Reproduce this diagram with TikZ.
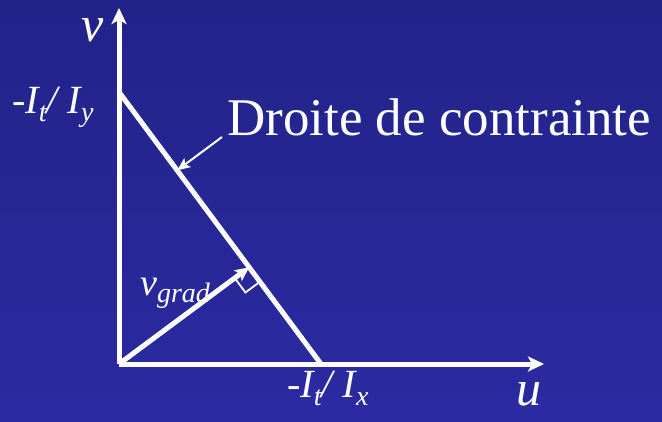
\documentclass[tikz,border=0pt]{standalone}
\usepackage{fontspec}
\setmainfont{Liberation Serif}
\usetikzlibrary{positioning,arrows.meta,calc}
\definecolor{bgtop}{RGB}{34,35,137}
\definecolor{bgbot}{RGB}{43,42,162}
\newcommand\lowsub[2]{\raisebox{#1}{\fontsize{28}{30}\selectfont #2}}

\begin{document}
\begin{tikzpicture}[x=1pt,y=-1pt,
  axis/.style={white,line width=5pt,-{Stealth[length=16pt,width=15pt,inset=4pt]}},
  lbl/.style={white,inner sep=0pt,anchor=base west}]
  \shade[top color=bgtop,bottom color=bgbot] (0,0) rectangle (662,421);
  \useasboundingbox (0,0) rectangle (662,421);
  \coordinate (O) at (119,364);
  \coordinate (vtop) at (119,8);
  \coordinate (utip) at (544,364);
  \coordinate (A) at (119,92);
  \coordinate (B) at (321,364);
  \coordinate (F) at ($(A)!(O)!(B)$);
  \coordinate (Fo) at ($(F)!18pt!(O)$);
  \coordinate (Fb) at ($(F)!18pt!(B)$);
  \coordinate (T) at ($(A)!0.288!(B)$);
  \coordinate (txt) at (222,137);
  \draw[axis] (O) -- (vtop);
  \draw[axis] (O) -- (utip);
  \draw[white,line width=5pt] (A) -- (B);
  \draw[white,line width=5pt,-{Stealth[length=14pt,width=13pt,inset=3pt]}] (O) -- (F);
  \draw[white,line width=1.8pt] (Fo) -- ($(Fo)+(Fb)-(F)$) -- (Fb);
  \draw[white,line width=2pt,-{Stealth[length=13pt,width=11pt,inset=3pt]}] (txt) -- (T);
  \node[lbl,font=\fontsize{53}{60}\selectfont] (droite) at (227,135) {Droite de contrainte};
  \node[lbl,font=\fontsize{50}{56}\selectfont\itshape] (vlab) at (81,41) {v};
  \node[lbl,font=\fontsize{50}{56}\selectfont\itshape] (ulab) at (516,405) {u};
  \node[lbl,font=\fontsize{40}{46}\selectfont\itshape] (iy) at (12,113)
    {-I\lowsub{-8pt}{t}/ I\lowsub{-8pt}{y}};
  \node[lbl,font=\fontsize{40}{46}\selectfont\itshape] (ix) at (287,397)
    {-I\lowsub{-8pt}{t}/ I\lowsub{-8pt}{x}};
  \node[lbl,font=\fontsize{38}{44}\selectfont\itshape] (vgrad) at (140,295)
    {v\lowsub{-7pt}{grad}};
\end{tikzpicture}
\end{document}
